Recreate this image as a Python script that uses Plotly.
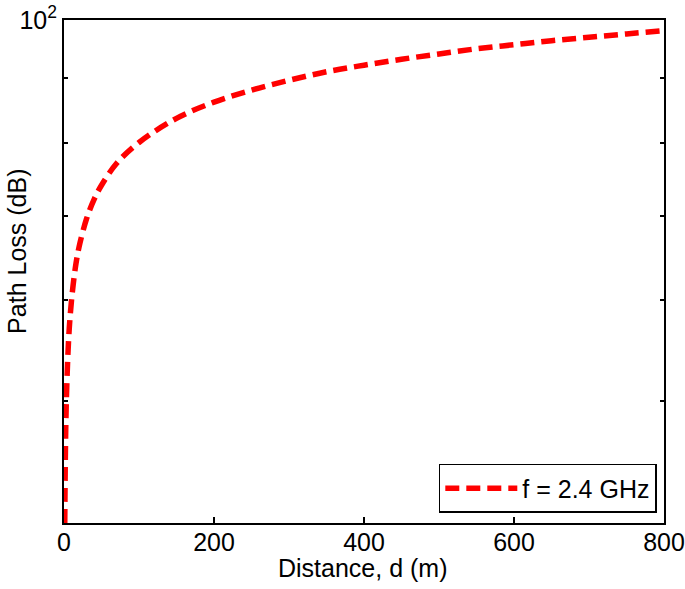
import plotly.graph_objects as go

# Distance (m) and path loss (dB)
distance_m = [1, 2, 3, 5, 7, 10, 15, 20, 30, 40, 50, 70, 100, 150, 200, 250,
              300, 350, 400, 450, 500, 550, 600, 650, 700, 750, 800]
path_loss_db = [40.0, 46.1, 49.6, 54.0, 57.0, 60.0, 63.6, 66.1, 69.6, 72.1, 74.0,
                77.0, 80.0, 83.6, 86.1, 88.0, 89.6, 91.0, 92.1, 93.1, 94.0, 94.9,
                95.6, 96.3, 96.9, 97.5, 98.1]
series_name = "f = 2.4 GHz"

x_ticks = [0, 200, 400, 600, 800]
y_ticks = [50, 60, 70, 80, 90, 100]
y_ticklabels = ["", "", "", "", "", "10<sup>2</sup>"]

FONT = "Liberation Sans, Arial, sans-serif"

fig = go.Figure()
fig.add_trace(go.Scatter(
    x=distance_m, y=path_loss_db, mode="lines", name=series_name,
    line=dict(color="#ff0000", width=5.5, dash="14px,7px", shape="spline"),
))

fig.update_layout(
    width=685, height=589,
    margin=dict(l=64, r=21, t=20, b=66),
    paper_bgcolor="white", plot_bgcolor="white",
    font=dict(family=FONT, size=25, color="black"),
    showlegend=True,
    legend=dict(
        x=0.988, y=0.02, xanchor="right", yanchor="bottom",
        bordercolor="black", borderwidth=1.5, bgcolor="white",
        font=dict(size=25), itemwidth=72,
        tracegroupgap=0,
    ),
    xaxis=dict(
        range=[0, 800], tickvals=x_ticks, ticks="inside", ticklen=6,
        tickwidth=1.5, tickcolor="black", showline=True, linecolor="black",
        linewidth=2, mirror=True, showgrid=False, zeroline=False,
        automargin=False, ticklabeloverflow="allow", ticklabelstandoff=-4,
        tickfont=dict(size=25),
    ),
    yaxis=dict(
        type="log", range=[1.60206, 2.0], tickvals=y_ticks, ticktext=y_ticklabels,
        ticks="inside", ticklen=4, tickwidth=1.5, tickcolor="black",
        showline=True, linecolor="black", linewidth=2, mirror="ticks",
        showgrid=False, zeroline=False, tickfont=dict(size=25),
        automargin=False, ticklabeloverflow="allow",
    ),
    annotations=[
        dict(
            text="Path Loss (dB)", textangle=-90, xref="paper", yref="paper",
            x=-0.0775, y=0.54, xanchor="center", yanchor="middle",
            showarrow=False, borderpad=0, font=dict(size=25, family=FONT),
        ),
        dict(
            text="Distance, d (m)", xref="paper", yref="paper",
            x=0.497, y=-0.0893, xanchor="center", yanchor="middle",
            showarrow=False, font=dict(size=25, family=FONT),
        ),
    ],
)

fig.write_html("out.html", config={"displayModeBar": False},
               post_script="document.body.style.margin='0';")
